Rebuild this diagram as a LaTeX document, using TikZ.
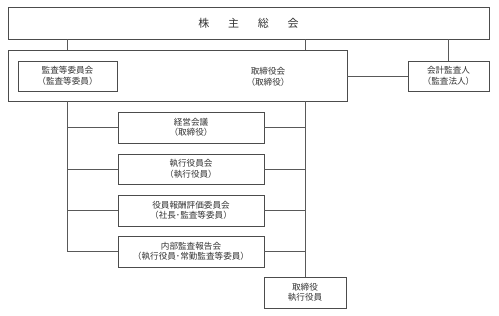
\documentclass[tikz,border=0pt]{standalone}
\usepackage{fontspec}
\setmainfont{Noto Sans CJK JP}
\usetikzlibrary{positioning}
\tikzset{
  orgbox/.style={
    draw=black!70, line width=0.7pt, fill=white,
    inner sep=0pt, align=center, text=black!80,
    font=\fontsize{8.6}{10.5}\selectfont
  },
  orglink/.style={draw=black!65, line width=0.6pt}
}

\begin{document}
\begin{tikzpicture}[x=1pt, y=-1pt]
  \useasboundingbox (0,0) rectangle (499,316);
  %
  % ==================================================================
  % Top level: shareholders' meeting and board
  % ==================================================================
  \node[orgbox, minimum width=481pt, minimum height=32pt,
        font=\fontsize{11}{13}\selectfont] (meeting) at (248.5,23)
    {株\hspace{1.7em}主\hspace{1.7em}総\hspace{1.7em}会};
  \node[orgbox, minimum width=339pt, minimum height=51pt] (board) at (177.5,75.5) {};
  \node[align=center, inner sep=0pt, text=black!80,
        font=\fontsize{8.6}{10.5}\selectfont] (boardtext) at (268,77)
    {取締役会\\（取締役）};
  \node[orgbox, minimum width=99pt, minimum height=30pt] (audit) at (67.5,76)
    {監査等委員会\\（監査等委員）};
  \node[orgbox, minimum width=81pt, minimum height=30pt] (auditor) at (448.5,76)
    {会計監査人\\（監査法人）};
  %
  % ==================================================================
  % Committees under the board
  % ==================================================================
  \node[orgbox, minimum width=146pt, minimum height=31pt] (mgmt) at (191,127.5)
    {経営会議\\（取締役）};
  \node[orgbox, minimum width=146pt, minimum height=30pt] (officers) at (191,169)
    {執行役員会\\（執行役員）};
  \node[orgbox, minimum width=146pt, minimum height=31pt] (remun) at (191,210.5)
    {役員報酬評価委員会\\（社長･監査等委員）};
  \node[orgbox, minimum width=146pt, minimum height=31pt] (internal) at (191,251.5)
    {内部監査報告会\\（執行役員･常勤監査等委員）};
  \node[orgbox, minimum width=82pt, minimum height=31pt] (exec) at (305,292.5)
    {取締役\\執行役員};
  %
  % connectors
  \draw[orglink] (meeting.south -| audit) -- (board.north -| audit);
  \draw[orglink] (meeting.south -| exec) -- (board.north -| exec);
  \draw[orglink] (meeting.south -| auditor) -- (auditor.north);
  \draw[orglink] (board.east |- auditor) -- (auditor.west);
  \draw[orglink] (board.south -| audit) -- (internal.west -| audit) -- (internal.west);
  \draw[orglink] (board.south -| exec) -- (exec.north);
  \foreach \m in {mgmt, officers, remun}
    \draw[orglink] (\m.west -| audit) -- (\m.west);
  \foreach \m in {mgmt, officers, remun, internal}
    \draw[orglink] (\m.east) -- (\m.east -| exec);
\end{tikzpicture}
\end{document}
